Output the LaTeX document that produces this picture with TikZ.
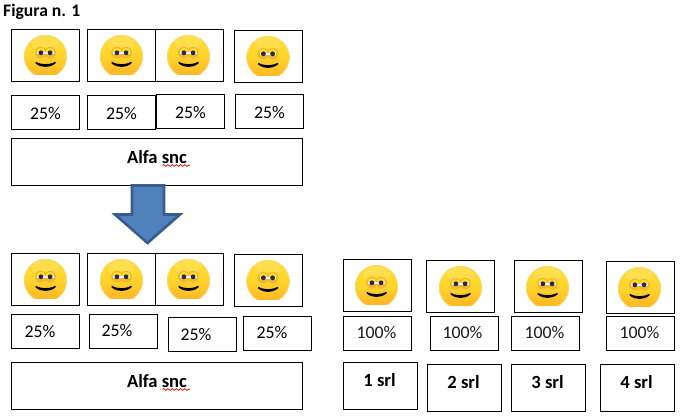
\documentclass[tikz,border=0pt]{standalone}
\usepackage{fontspec}
\setmainfont{Carlito}
\usetikzlibrary{decorations.pathmorphing}
\definecolor{arrowfill}{HTML}{4F81BD}
\definecolor{arrowline}{HTML}{385D8A}
\definecolor{facetop}{HTML}{FFDC2E}
\definecolor{facebot}{HTML}{FDB224}
\definecolor{facerim}{HTML}{FBD98C}
\definecolor{lobe}{HTML}{F5B52C}
\definecolor{pupil}{HTML}{23285E}
\tikzset{
  x=1pt,y=-1pt,
  boxn/.style={draw=black,line width=1.15pt,fill=white,inner sep=0pt,outer sep=0pt,anchor=north west},
  pct/.style={font=\fontsize{17.8}{20}\selectfont,inner sep=0pt,text=black},
  pctgrey/.style={font=\fontsize{17.8}{20}\selectfont,inner sep=0pt,text=black!90},
  boldt/.style={font=\bfseries\fontsize{18.6}{20}\selectfont,inner sep=0pt,text=black},
  squig/.style={draw=red!85!black,line width=.7pt,decorate,decoration={snake,amplitude=.9pt,segment length=4.2pt}},
}
\newcommand{\mybox}[5]{\node[boxn,minimum width=#4-#2,minimum height=#5-#3] (#1) at (#2,#3) {};}
\newcommand{\smiley}[2]{%
\begin{scope}[shift={(#1,#2)}]
 \begin{scope}
  \clip (-21.5,0) rectangle (21.5,39.5);
  \shade[top color=facetop,bottom color=facebot,middle color=facetop!80!facebot] (0,21.5) circle (21.5);
  \draw[facerim,line width=.6pt] (0,21.5) circle (21.2);
  \fill[white,opacity=.15] (0,9) ellipse (14 and 7.5);
 \end{scope}
 \fill[lobe] (-4.6,17.6) circle (5.8) (4.6,17.6) circle (5.8);
 \fill[facetop] (-4.6,16) ellipse (4.2 and 3) (4.6,16) ellipse (4.2 and 3);
 \fill[white] (-8.2,16.6) rectangle (8.2,19);
 \fill[pupil] (-4.6,17.8) circle (2.4) (4.6,17.8) circle (2.4);
 \fill[black] (-10,26.8) .. controls (-4,30) and (4,30) .. (10,26.8) .. controls (10.6,27.4) and (10.4,28) .. (10,28.4) .. controls (4,33.2) and (-4,33.2) .. (-10,28.4) .. controls (-10.4,28) and (-10.6,27.4) .. (-10,26.8);
\end{scope}}
\begin{document}
\begin{tikzpicture}
\useasboundingbox (0,0) rectangle (681,419);
\fill[white] (0,0) rectangle (681,419);
\node[font=\bfseries\fontsize{17.6}{20}\selectfont,anchor=west,inner sep=0pt] (title) at (3,11.5) {Figura n. 1};
% top group
\mybox{f1}{11.5}{29.5}{79.5}{81.5}
\mybox{f2}{87.5}{29.5}{155.5}{81.5}
\mybox{f3}{155.5}{29.5}{223.5}{81.5}
\mybox{f4}{234.5}{30.5}{302.5}{82.5}
\smiley{45.5}{35}\smiley{121.5}{35}\smiley{188.5}{35}\smiley{268}{36}
\mybox{p1}{11.5}{95.5}{79.5}{129.5}
\mybox{p2}{87.5}{95.5}{155.5}{129.5}
\mybox{p3}{156.5}{94.5}{224.5}{128.5}
\mybox{p4}{235.5}{94.5}{303.5}{128.5}
\node[pct] at ([yshift=-1pt]p1) {25\%};
\node[pct] at ([yshift=-1pt]p2) {25\%};
\node[pct] at ([yshift=-1pt]p3) {25\%};
\node[pct] at ([yshift=-1pt]p4) {25\%};
\mybox{a1}{11.5}{138.5}{302.5}{185.5}
\node[boldt] (a1t) at (157,157.5) {Alfa snc};
\draw[squig] (162.5,165.5) -- (189.5,165.5);
% arrow
\draw[arrowline,fill=arrowfill,line width=2.6pt,miter limit=10] (132,185.5) -- (164,185.5) -- (164,214.5) -- (180,214.5) -- (147.5,243) -- (115,214.5) -- (132,214.5) -- cycle;
% lower group
\mybox{g1}{11.5}{253.5}{79.5}{305.5}
\mybox{g2}{87.5}{253.5}{155.5}{305.5}
\mybox{g3}{155.5}{253.5}{223.5}{305.5}
\mybox{g4}{234.5}{254.5}{302.5}{306.5}
\smiley{45.5}{259}\smiley{121.5}{259}\smiley{188.5}{259}\smiley{268}{260}
\mybox{q1}{11.5}{314.5}{79.5}{348.5}
\mybox{q2}{89.5}{314.5}{157.5}{348.5}
\mybox{q3}{168.5}{317.5}{236.5}{351.5}
\mybox{q4}{243.5}{316.5}{311.5}{350.5}
\node[pct] at (40,331.5) {25\%};
\node[pct] at (117,330.5) {25\%};
\node[pct] at (196,334.5) {25\%};
\node[pct] at (272,332.5) {25\%};
\mybox{a2}{11.5}{362.5}{302.5}{409.5}
\node[boldt] (a2t) at (157,381.5) {Alfa snc};
\draw[squig] (162.5,389.5) -- (189.5,389.5);
% right group
\mybox{r1}{343.5}{259.5}{411.5}{311.5}
\mybox{r2}{426.5}{260.5}{494.5}{312.5}
\mybox{r3}{514.5}{260.5}{582.5}{312.5}
\mybox{r4}{606.5}{261.5}{674.5}{313.5}
\smiley{376.5}{265}\smiley{460.5}{266}\smiley{547.5}{266}\smiley{639.5}{267}
\mybox{s1}{343.5}{316.5}{411.5}{350.5}
\mybox{s2}{430.5}{316.5}{498.5}{350.5}
\mybox{s3}{511.5}{316.5}{579.5}{350.5}
\mybox{s4}{606.5}{316.5}{674.5}{350.5}
\node[pctgrey] at (376.5,332.5) {100\%};
\node[pctgrey] at (462.5,332.5) {100\%};
\node[pctgrey] at (544.5,332.5) {100\%};
\node[pctgrey] at (639.5,332.5) {100\%};
\mybox{t1}{343.5}{362.5}{417.5}{409.5}
\mybox{t2}{427.5}{364.5}{501.5}{411.5}
\mybox{t3}{511.5}{364.5}{585.5}{411.5}
\mybox{t4}{600.5}{364.5}{674.5}{411.5}
\node[boldt] at (379.5,380) {1 srl};
\node[boldt] at (463.5,382) {2 srl};
\node[boldt] at (547.5,382) {3 srl};
\node[boldt] at (636.5,382) {4 srl};
\end{tikzpicture}
\end{document}
